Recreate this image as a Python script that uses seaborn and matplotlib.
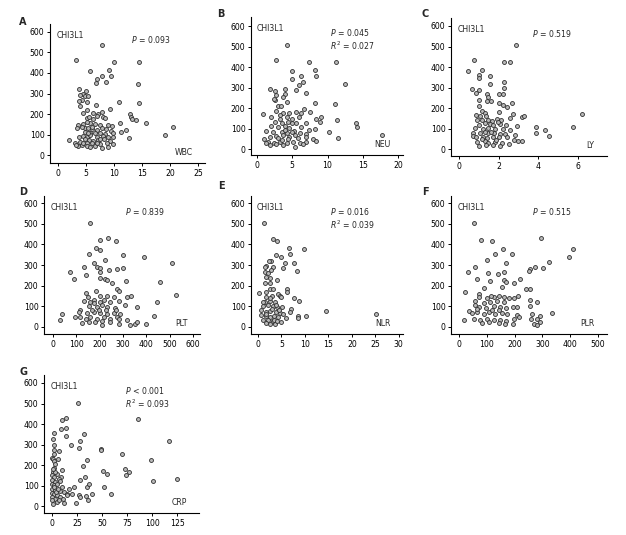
import numpy as np
import pandas as pd
import matplotlib
matplotlib.use("Agg")
import matplotlib.pyplot as plt
import seaborn as sns

sns.set_style("ticks")
plt.rcParams["font.family"] = ["DejaVu Sans"]

# ---------------- data ----------------
wbc_x = [7.8,3.2,10.0,14.5,5.8,9.1,7.9,9.5,6.9,6.8,8.6,14.3,3.7,5.0,4.5,3.9,4.8,5.4,4.2,3.8,5.2,10.9,14.5,3.9,6.7,
         5.2,9.2,4.5,7.2,6.9,8.1,12.9,13.1,13.2,14.0,5.2,5.5,6.3,8.4,11.1,15.8,3.5,4.5,5.7,6.6,7.5,9.0,9.7,20.6,3.4,
         4.8,5.4,6.1,6.9,7.8,8.5,9.5,12.2,4.8,5.7,6.6,7.5,8.4,9.8,11.2,3.7,4.5,5.2,5.8,6.9,8.1,9.0,9.8,19.1,2.0,
         4.8,5.5,6.3,7.2,8.2,9.2,12.7,3.9,3.0,5.1,6.0,7.5,8.7,9.8,3.6,4.2,5.2,6.6,7.9,9.0,4.5,3.3,5.7,6.9,7.5,
         5.4,6.0,4.2,5.1,6.3,7.8]
wbc_y = [537,463,452,455,408,413,385,385,371,350,356,345,324,314,299,293,286,286,268,265,260,257,252,239,242,
         220,224,203,200,190,187,202,187,176,171,179,184,177,179,154,154,146,151,154,151,146,146,141,138,130,
         133,130,128,122,130,125,119,122,114,109,106,106,102,109,111,89,93,89,98,86,93,89,86,96,73,
         76,73,70,73,76,70,81,65,60,57,57,54,57,54,44,49,44,46,33,41,60,49,41,57,76,
         106,138,138,163,203,211]

neu_x = [4.3,2.7,7.4,11.2,8.2,4.9,8.3,6.2,5.0,6.5,5.9,12.5,1.9,4.0,5.5,6.9,2.6,4.0,2.7,3.7,4.2,2.5,2.4,3.0,3.4,
         8.2,11.0,0.9,2.7,3.7,5.6,6.2,6.7,7.5,9.1,8.3,11.4,2.0,3.2,4.3,4.9,5.9,2.5,3.6,4.4,5.6,7.0,9.0,14.0,14.2,
         2.0,3.0,3.9,4.6,6.3,7.4,8.2,10.2,1.3,2.2,3.5,4.3,5.3,6.1,6.9,17.7,1.0,1.8,2.7,3.7,4.6,5.4,7.0,7.9,11.5,
         1.6,2.4,3.2,4.2,5.1,6.1,6.9,1.8,2.7,3.7,5.4,6.5,3.0,4.4,5.8,3.9,4.9,3.2,4.5,8.4,1.3,3.5,4.9]
neu_y = [506,433,423,423,384,379,355,355,341,326,311,315,292,295,287,274,282,268,263,255,230,238,242,212,212,
         227,222,172,186,177,182,174,193,182,157,149,144,157,149,154,146,154,131,125,133,128,125,133,125,109,
         114,109,112,101,109,92,96,81,89,84,84,79,86,76,73,68,47,60,63,68,60,68,60,47,55,
         36,31,36,28,36,31,36,19,24,19,11,24,52,47,52,92,125,165,174,41,28,44,84]

ly_x = [2.88,0.78,2.29,2.58,0.47,1.18,1.03,1.57,2.29,1.0,2.29,0.67,1.01,1.57,0.86,1.4,2.04,2.21,1.45,1.01,1.4,1.6,
        2.04,2.66,1.01,2.24,2.41,1.15,1.32,2.02,2.7,0.86,1.37,3.2,3.3,6.22,2.58,1.9,0.89,1.15,1.45,1.65,2.12,1.32,
        1.57,1.03,2.09,2.38,2.95,3.9,5.73,4.32,0.81,1.2,1.45,1.82,2.24,2.55,3.9,4.52,0.69,1.06,1.48,1.77,2.07,2.33,
        2.8,0.69,0.86,1.2,1.43,1.7,2.04,2.41,2.75,3.0,3.2,0.93,1.32,1.48,1.82,2.16,2.5,1.01,1.37,1.7,2.07,1.15,
        1.85,1.32,1.6,1.99,1.74,1.06]
ly_y = [507,434,424,424,380,385,359,356,327,346,296,291,288,317,272,267,267,267,255,239,234,234,226,223,210,213,
        203,185,177,182,169,166,163,158,161,171,153,146,144,141,141,138,141,125,122,117,122,115,112,107,107,94,
        101,96,101,96,96,93,80,63,80,76,76,80,73,73,70,63,57,60,52,60,57,60,44,41,41,36,41,28,33,31,24,15,20,
        20,15,47,44,85,85,133,117,161]

plt_x = [157,203,234,271,153,300,391,510,186,203,224,174,71,89,131,189,203,239,274,300,143,203,224,231,314,460,
         203,253,186,274,281,143,527,149,203,231,317,334,131,174,203,246,284,446,117,153,189,210,231,267,310,360,
         110,146,174,203,231,260,289,39,29,117,139,160,189,217,246,274,317,431,124,153,181,210,246,281,329,353,
         360,399,167,196,227,271,174,217,157,260,96,210,281]
plt_y = [503,422,430,418,354,349,341,311,381,373,324,311,268,230,292,292,284,276,279,284,251,268,230,227,224,219,
         235,211,175,182,175,165,154,143,149,149,146,149,126,130,122,122,126,122,84,101,97,105,97,94,105,97,
         73,68,73,68,62,68,62,62,32,49,41,49,41,49,41,49,36,55,19,24,24,29,23,13,8,13,
         23,16,84,84,81,81,114,133,122,146,49,8,41]

nlr_x = [1.3,3.1,4.1,6.6,9.8,6.9,3.8,4.8,5.7,7.7,5.3,8.4,2.7,1.8,3.1,1.4,2.1,2.8,1.8,2.5,4.1,1.4,2.6,0.2,2.5,3.2,
         6.2,6.2,4.3,4.6,5.0,1.8,2.9,7.7,8.7,1.4,2.5,3.6,1.1,2.1,3.2,4.1,5.2,7.1,0.7,1.6,2.6,3.8,4.6,14.4,25.2,
         8.6,10.3,8.6,5.9,0.7,1.6,2.5,3.3,4.3,1.1,2.1,3.1,5.0,1.8,2.6,3.6,1.1,1.8,2.6,3.8,4.5,2.9,1.8,3.4,4.1,
         5.3,6.8,2.3,1.4]
nlr_y = [503,426,418,381,376,354,349,337,311,311,284,272,321,295,292,268,263,276,243,235,227,211,211,165,186,182,
         182,170,162,149,143,146,149,138,125,122,126,122,101,105,101,97,97,89,81,73,78,73,68,78,65,
         52,52,45,45,57,52,49,52,49,36,32,29,24,19,13,16,122,170,138,105,84,89,65,36,29,
         65,73,321,292]

plr_x = [54,78,119,294,409,157,189,130,396,322,301,100,168,274,256,250,56,32,103,141,162,66,112,162,169,198,220,
         88,242,254,22,72,211,73,100,126,145,162,178,196,254,58,88,112,136,160,280,58,73,97,124,148,169,193,210,
         254,34,46,66,88,109,130,154,172,208,262,290,334,18,52,76,102,126,148,169,196,214,257,281,291,82,106,
         142,166,193,268,280,64,118,142,114,154]
plr_y = [503,422,418,430,376,379,352,352,341,313,284,324,311,292,279,271,292,264,259,256,268,230,222,227,219,211,
         230,191,182,186,167,159,149,143,141,146,149,143,138,138,133,126,117,122,126,122,122,105,97,94,101,97,
         94,97,97,101,78,68,73,65,73,65,68,62,57,65,52,68,32,41,36,41,32,36,29,41,49,41,41,24,19,24,
         19,16,13,16,8,89,84,81,149,195]

crp_x = [25.9,10.3,13.9,85.5,9.0,13.9,1.7,31.5,1.3,13.9,2.0,19.2,28.2,26.5,48.7,48.7,117.4,2.3,6.6,1.7,70.3,0,1.0,
         6.0,34.8,99.5,2.3,3.3,30.8,2.3,72.9,76.9,51.4,54.7,73.9,9.9,1.0,5.0,0,2.3,9.3,6.6,32.5,27.5,101,125,0,
         3.3,0,2.3,5.0,16.6,34.8,37.1,52.1,0,3.3,7.6,11.6,14.9,0,1.7,5.0,0,2.7,0,5.0,1.0,21.6,19.6,12.3,24.2,
         27.2,34.2,35.5,39.8,59.0,28.2,8.3,9.9,3.3,1.0,14.9,6.6,1.7,4.3,10.9,8.3,5.6]
crp_y = [504,421,429,423,377,380,356,353,325,341,296,296,315,283,280,271,315,271,267,255,255,236,231,231,226,223,
         220,207,194,187,182,166,169,158,150,177,166,158,150,141,141,133,141,128,122,133,128,117,106,101,106,85,
         93,109,93,85,80,73,68,60,63,57,52,44,36,28,20,11,93,60,15,15,52,47,31,57,59,44,44,93,166,182,52,31,93,
         68,36,120,85]

y_ticks = [0, 100, 200, 300, 400, 500, 600]

panels = [
    # letter, x, y, x label, stats lines, x ticks, xlim, ylim, axes box px (L, R, T, B), letter pos px
    ("A", wbc_x, wbc_y, "WBC", ["$P$ = 0.093"], [0, 5, 10, 15, 20, 25], (-1.43, 26.25), (-39, 639), (50, 205, 24, 163), (19, 22)),
    ("B", neu_x, neu_y, "NEU", ["$P$ = 0.045", "$R^2$ = 0.027"], [0, 5, 10, 15, 20], (-0.85, 20.7), (-29, 644), (251, 403, 17, 155), (217, 14)),
    ("C", ly_x, ly_y, "LY", ["$P$ = 0.519"], [0, 2, 4, 6], (-0.4, 7.46), (-34, 639), (451, 607, 18, 156), (422, 14)),
    ("D", plt_x, plt_y, "PLT", ["$P$ = 0.839"], [0, 100, 200, 300, 400, 500, 600], (-39, 630), (-34, 634), (44, 200, 196, 334), (19, 192)),
    ("E", nlr_x, nlr_y, "NLR", ["$P$ = 0.016", "$R^2$ = 0.039"], [0, 5, 10, 15, 20, 25, 30], (-1.5, 30.9), (-34, 634), (251, 403, 196, 334), (218, 186)),
    ("F", plr_x, plr_y, "PLR", ["$P$ = 0.515"], [0, 100, 200, 300, 400, 500], (-29, 532), (-34, 634), (451, 607, 196, 334), (422, 192)),
    ("G", crp_x, crp_y, "CRP", ["$P$ < 0.001", "$R^2$ = 0.093"], [0, 25, 50, 75, 100, 125], (-8, 147), (-34, 639), (44, 199, 375, 513), (19, 372)),
]

W, H = 626, 535
fig = plt.figure(figsize=(W / 100, H / 100), dpi=100)

for letter, xs, ys, lab, stats, xt, xl, yl, box, lpos in panels:
    L, R, T, B = box
    ax = fig.add_axes([L / W, 1 - B / H, (R - L) / W, (B - T) / H])
    df = pd.DataFrame({"x": xs, "y": ys})
    sns.scatterplot(data=df, x="x", y="y", ax=ax, s=8, marker="o",
                    facecolor="#b8b8b8", edgecolor="#2e2e2e", linewidth=0.6, legend=False)
    ax.set_xlim(*xl)
    ax.set_ylim(*yl)
    ax.set_xticks(xt)
    ax.set_yticks(y_ticks)
    ax.set_xlabel("")
    ax.set_ylabel("")
    for s in ["top", "right"]:
        ax.spines[s].set_visible(False)
    for s in ["left", "bottom"]:
        ax.spines[s].set_linewidth(0.8)
        ax.spines[s].set_color("black")
    ax.tick_params(direction="out", length=2.5, width=0.7, labelsize=5.6, pad=1.5, colors="black")
    ax.text(0.04, 0.915, "CHI3L1", transform=ax.transAxes, fontsize=5.6, va="center", ha="left")
    for i, st in enumerate(stats):
        ax.text(0.52, 0.885 - i * 0.095, st, transform=ax.transAxes, fontsize=5.6, va="center", ha="left")
    ax.text(0.92, 0.075, lab, transform=ax.transAxes, fontsize=5.6, va="center", ha="right")
    fig.text(lpos[0] / W, 1 - lpos[1] / H, letter, fontsize=7, fontweight="bold", va="center", ha="left")

fig.savefig("out.png", dpi=100, facecolor="white")
